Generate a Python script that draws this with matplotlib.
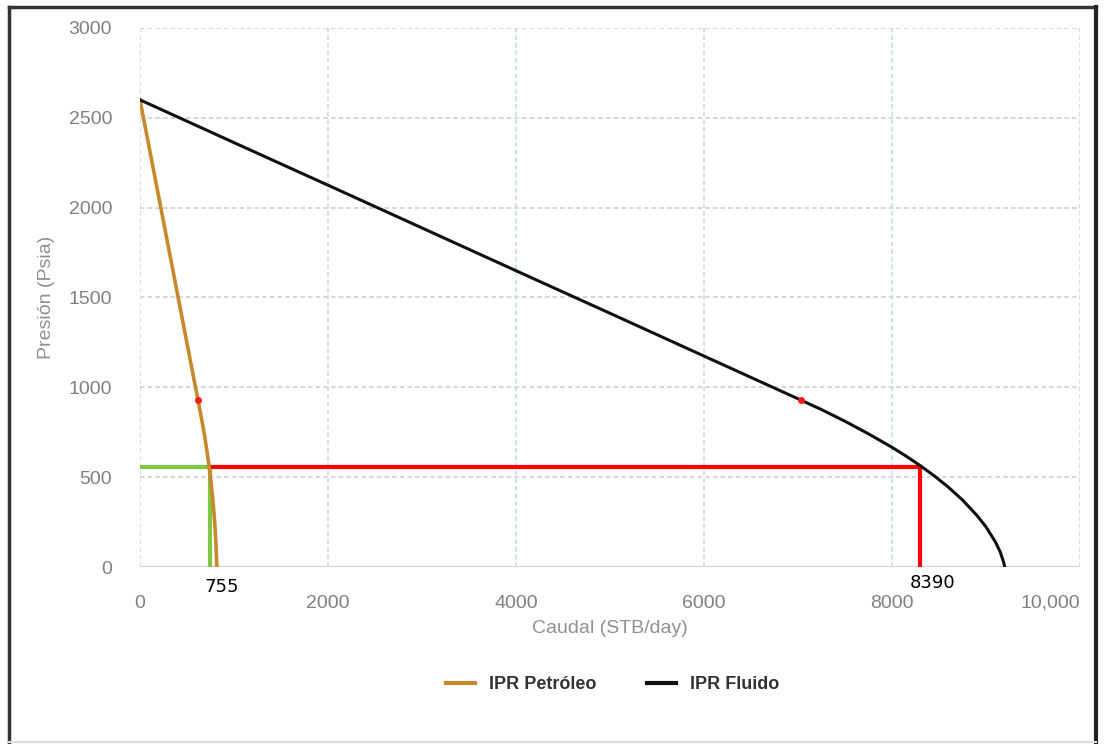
import matplotlib.pyplot as plt
from matplotlib.lines import Line2D

plt.rcParams['font.family'] = ['Liberation Sans', 'DejaVu Sans']

q_petroleo = [0, 100, 200, 300, 400, 500, 617, 646, 681, 711, 736, 760, 779, 795, 806, 814, 817]
p_petroleo = [2600, 2329, 2058, 1787, 1516, 1245, 929, 850, 750, 650, 556, 450, 350, 250, 150, 50, 0]

q_fluido = [0, 1000, 2000, 3000, 4000, 5000, 6000, 7030, 7250, 7500, 7750, 8000, 8150,
            8300, 8450, 8600, 8750, 8900, 9000, 9100, 9150, 9185, 9200]
p_fluido = [2600, 2362, 2125, 1887, 1649, 1412, 1174, 929, 876, 811, 741, 666, 617,
            564, 507, 444, 373, 289, 223, 139, 85, 30, 0]

# Puntos de burbuja (marcas rojas)
q_burbuja = [617, 7030]
p_burbuja = [929, 929]

# Punto de operacion
p_op = 556
q_op_petroleo = 745
q_op_fluido = 8300
etiquetas_op = ["755", "8390"]

x_ticks = [0, 2000, 4000, 6000, 8000, 10000]
x_labels = ["0", "2000", "4000", "6000", "8000", "10,000"]
y_ticks = [0, 500, 1000, 1500, 2000, 2500, 3000]

fig = plt.figure(figsize=(11.04, 7.44), dpi=100)
ax = fig.add_axes([0.1268, 0.2379, 0.8515, 0.7245])

# Grilla punteada
for y in y_ticks[1:]:
    ax.axhline(y, color='#cccccc', linestyle=(0, (3, 2)), linewidth=1.1, zorder=0)
for x in x_ticks:
    ax.axvline(x, color='#ccd5e0', linestyle=(0, (3, 2)), linewidth=1.1, zorder=0)
ax.axhline(0, color='#c9d3e3', linewidth=1.5, zorder=0)

# Curvas IPR
ax.plot(q_petroleo, p_petroleo, color='#c8882c', linewidth=2.6, label='IPR Petróleo', zorder=3)
ax.plot(q_fluido, p_fluido, color='#111111', linewidth=2.2, label='IPR Fluido', zorder=3)
ax.plot(q_burbuja, p_burbuja, 'o', color='#ff1a1a', markersize=4, zorder=4)

# Lineas de operacion
ax.plot([0, q_op_petroleo], [p_op, p_op], color='#7ec843', linewidth=3, zorder=2)
ax.plot([q_op_petroleo, q_op_petroleo], [0, p_op], color='#7ec843', linewidth=3, zorder=2)
ax.plot([q_op_petroleo, q_op_fluido], [p_op, p_op], color='#ff0000', linewidth=3, zorder=2)
ax.plot([q_op_fluido, q_op_fluido], [0, p_op], color='#ff0000', linewidth=3, zorder=2)

ax.text(q_op_petroleo - 60, -60, etiquetas_op[0], ha='left', va='top', fontsize=13,
        color='black', family='DejaVu Sans')
ax.text(q_op_fluido - 110, -40, etiquetas_op[1], ha='left', va='top', fontsize=13,
        color='black', family='DejaVu Sans')

ax.set_xlim(0, 10000)
ax.set_ylim(0, 3000)
ax.set_xticks(x_ticks)
ax.set_xticklabels(x_labels)
ax.set_yticks(y_ticks)
ax.tick_params(colors='#808080', labelsize=14, length=0, pad=20)
ax.tick_params(axis='x', pad=20)
ax.get_xticklabels()[-1].set_horizontalalignment('right')
for s in ax.spines.values():
    s.set_visible(False)

ax.set_xlabel('Caudal (STB/day)', color='#909090', fontsize=14, labelpad=6)
ax.set_ylabel('Presión (Psia)', color='#909090', fontsize=14, labelpad=10)

leg = fig.legend(handles=[Line2D([], [], color='#c8882c', lw=3),
                          Line2D([], [], color='#111111', lw=3)],
                 labels=['IPR Petróleo', 'IPR Fluido'], loc='center',
                 bbox_to_anchor=(0.555, 0.08), ncol=2, frameon=False,
                 handlelength=1.6, columnspacing=2.8,
                 prop={'weight': 'bold', 'size': 13})
for t in leg.get_texts():
    t.set_color('#333333')

# Marco de la imagen
fig.add_artist(Line2D([0.008, 0.008], [0.003, 0.99], color='#333333', lw=2.5))
fig.add_artist(Line2D([0.008, 0.993], [0.99, 0.99], color='#333333', lw=2.5))
fig.add_artist(Line2D([0.993, 0.993], [0.003, 0.99], color='#222222', lw=3))
fig.add_artist(Line2D([0.008, 0.993], [0.003, 0.003], color='#dddddd', lw=1.5))

plt.savefig('out.png', dpi=100)
